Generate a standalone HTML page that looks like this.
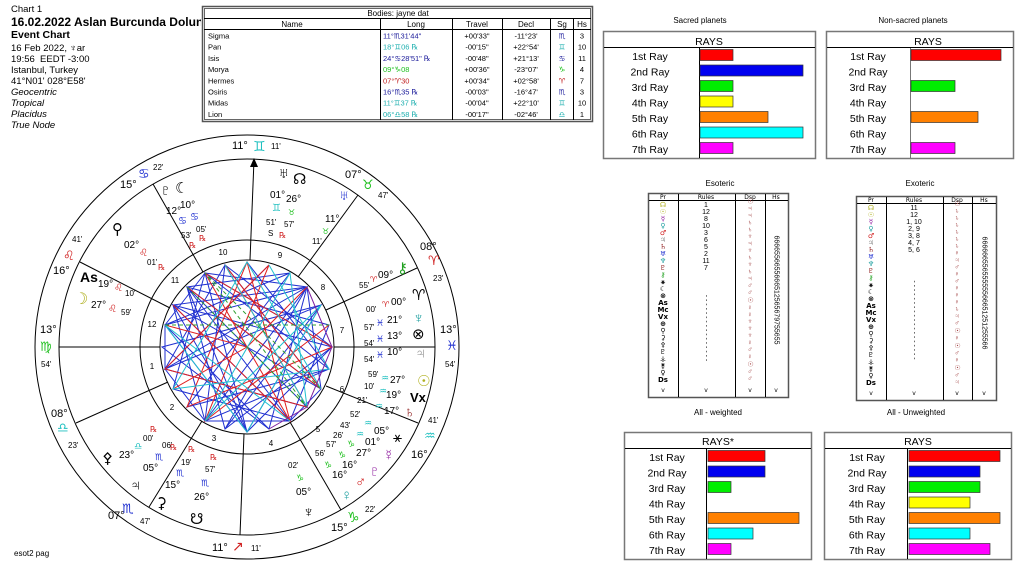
<!DOCTYPE html>
<html><head><meta charset="utf-8">
<style>
body{margin:0;width:1024px;height:566px;background:#fff;overflow:hidden;font-family:"Liberation Sans","DejaVu Sans",sans-serif;position:relative}
.a{position:absolute;white-space:nowrap}
</style></head><body>
<div class="a" style="left:11px;top:4px;font-size:9.5px">Chart 1</div>
<div class="a" style="left:11px;top:15px;font-size:12px;font-weight:bold;width:190px;overflow:hidden">16.02.2022 Aslan Burcunda Dolunay</div>
<div class="a" style="left:11px;top:29px;font-size:10.5px;font-weight:bold">Event Chart</div>
<div class="a" style="left:11px;top:43px;font-size:9.5px;line-height:11px">16 Feb 2022, ♆ar<br>19:56 &nbsp;EEDT -3:00<br>Istanbul, Turkey<br>41°N01' 028°E58'<br><i>Geocentric<br>Tropical<br>Placidus<br>True Node</i></div>
<div class="a" style="left:14px;top:549px;font-size:8px">esot2 pag</div>

<svg class="a" style="left:0;top:0" width="1024" height="566" xmlns="http://www.w3.org/2000/svg" font-family="Liberation Sans, DejaVu Sans, sans-serif">
<!-- bodies table -->
<g font-size="8" fill="#000">
<rect x="202.5" y="6.5" width="390" height="115" fill="none" stroke="#555" stroke-width="1.5"/>
<rect x="204.5" y="8.5" width="386" height="111" fill="none" stroke="#000" stroke-width=".6"/>
<line x1="204" y1="18.5" x2="591" y2="18.5" stroke="#000"/>
<line x1="204" y1="29.5" x2="591" y2="29.5" stroke="#000"/>
<g stroke="#000"><line x1="380.5" y1="19" x2="380.5" y2="120"/><line x1="452.5" y1="19" x2="452.5" y2="120"/><line x1="502.5" y1="19" x2="502.5" y2="120"/><line x1="550.5" y1="19" x2="550.5" y2="120"/><line x1="573.5" y1="19" x2="573.5" y2="120"/></g>
<text x="398" y="16" text-anchor="middle">Bodies: jayne dat</text>
<text x="292" y="27" text-anchor="middle">Name</text><text x="416" y="27" text-anchor="middle">Long</text><text x="477" y="27" text-anchor="middle">Travel</text><text x="526" y="27" text-anchor="middle">Decl</text><text x="562" y="27" text-anchor="middle">Sg</text><text x="582" y="27" text-anchor="middle">Hs</text>
<g font-size="7.5">
<g><text x="208" y="38.5">Sigma</text><text x="208" y="49.7">Pan</text><text x="208" y="60.9">Isis</text><text x="208" y="72.1">Morya</text><text x="208" y="83.3">Hermes</text><text x="208" y="94.5">Osiris</text><text x="208" y="105.7">Midas</text><text x="208" y="116.9">Lion</text></g>
<text x="383" y="38.5" fill="#1a1a9a">11°♏31'44"</text><text x="383" y="49.7" fill="#20b0b0">18°♊06 ℞</text><text x="383" y="60.9" fill="#1a1a9a">24°♋28'51" ℞</text><text x="383" y="72.1" fill="#20c020">09°♑08</text><text x="383" y="83.3" fill="#c02020">07°♈30</text><text x="383" y="94.5" fill="#1a1a9a">16°♏35 ℞</text><text x="383" y="105.7" fill="#20b0b0">11°♊37 ℞</text><text x="383" y="116.9" fill="#20b0b0">06°♎58 ℞</text>
<g text-anchor="middle">
<text x="477" y="38.5">+00'33"</text><text x="477" y="49.7">-00'15"</text><text x="477" y="60.9">-00'48"</text><text x="477" y="72.1">+00'36"</text><text x="477" y="83.3">+00'34"</text><text x="477" y="94.5">-00'03"</text><text x="477" y="105.7">-00'04"</text><text x="477" y="116.9">-00'17"</text>
<text x="526" y="38.5">-11°23'</text><text x="526" y="49.7">+22°54'</text><text x="526" y="60.9">+21°13'</text><text x="526" y="72.1">-23°07'</text><text x="526" y="83.3">+02°58'</text><text x="526" y="94.5">-16°47'</text><text x="526" y="105.7">+22°10'</text><text x="526" y="116.9">-02°46'</text>
<text x="562" y="38.5" fill="#1a1a9a">♏</text><text x="562" y="49.7" fill="#20b0b0">♊</text><text x="562" y="60.9" fill="#1a1a9a">♋</text><text x="562" y="72.1" fill="#20c020">♑</text><text x="562" y="83.3" fill="#c02020">♈</text><text x="562" y="94.5" fill="#1a1a9a">♏</text><text x="562" y="105.7" fill="#20b0b0">♊</text><text x="562" y="116.9" fill="#20b0b0">♎</text>
<text x="582" y="38.5">3</text><text x="582" y="49.7">10</text><text x="582" y="60.9">11</text><text x="582" y="72.1">4</text><text x="582" y="83.3">7</text><text x="582" y="94.5">3</text><text x="582" y="105.7">10</text><text x="582" y="116.9">1</text></g>
</g></g>

<!-- wheel -->
<g fill="none" stroke="#000" stroke-width="1">
<circle cx="247" cy="347" r="212"/>
<circle cx="247" cy="347" r="188"/>
<circle cx="247" cy="347" r="107"/>
<circle cx="247" cy="347" r="87"/>
<line x1="59" y1="347" x2="160" y2="347"/><line x1="334" y1="347" x2="435" y2="347"/>
<line x1="250" y1="260" x2="254" y2="160"/>
<line x1="244" y1="434" x2="240" y2="535"/>
<line x1="326" y1="310" x2="417" y2="268"/>
<line x1="298" y1="277" x2="358" y2="195"/>
<line x1="203" y1="272" x2="153" y2="184"/>
<line x1="170" y1="308" x2="80" y2="262"/>
<line x1="168" y1="382" x2="76" y2="423"/>
<line x1="202" y1="421" x2="149" y2="507"/>
<line x1="290" y1="422" x2="341" y2="510"/>
<line x1="326" y1="386" x2="418" y2="423"/>
</g>
<path d="M254 158 l-4 9 h8z" fill="#000"/>
<!-- aspect lines -->
<g stroke-width="1" fill="none">
<g stroke="#2030d0">
<polyline points="332,347 205,273 173,389 290,421 329,325 187,287 247,432 321,305 162,347 269,429 307,287 165,369 225,265 332,347"/>
<polyline points="290,273 187,407 329,369 205,273 247,432 173,305 321,389 225,265 205,421 307,287 165,325 269,429"/>
<polyline points="269,265 165,369 307,407 187,287 290,421 173,305 332,347 225,429 187,287"/>
<polyline points="247,262 329,369 205,421 173,305 307,287 225,429 321,305 165,369"/>
<polyline points="321,389 187,287 290,273 165,325 247,432 332,347"/>
<polyline points="205,273 307,287 321,389 290,421 205,421 165,369 165,325 205,273"/>
</g>
<g stroke="#e02020">
<polyline points="247,347 205,273 247,347 307,287 247,347 173,389 247,347 290,421 247,347 165,325"/>
<polyline points="187,287 321,389 225,265 307,407 165,369 269,265 205,421 329,325"/>
<polyline points="173,305 290,421 247,262 187,407 332,347 205,273"/>
</g>
<g stroke="#20c0d0">
<polyline points="225,265 307,407 290,273 205,421 321,305 247,432 165,325 290,421"/>
<polyline points="269,265 329,369 173,389 247,262 321,389"/>
</g>
<g stroke="#30a030" stroke-dasharray="4 3">
<polyline points="187,287 307,407 205,273 321,389"/>
<line x1="165" y1="325" x2="329" y2="325"/>
</g>
<g stroke="#8020a0"><polyline points="307,287 332,347 307,407 269,429"/></g>
</g>
<!-- house numbers -->
<g font-size="8" text-anchor="middle">
<text x="152" y="369">1</text><text x="172" y="410">2</text><text x="214" y="441">3</text><text x="271" y="446">4</text><text x="318" y="432">5</text><text x="342" y="392">6</text><text x="342" y="333">7</text><text x="323" y="290">8</text><text x="280" y="258">9</text><text x="223" y="255">10</text><text x="175" y="283">11</text><text x="152" y="327">12</text>
</g>
<!-- zodiac ring -->
<g font-size="11">
<text x="232" y="149">11°</text><text x="253" y="151" fill="#20c0c0" font-size="14">♊</text><text x="271" y="149" font-size="8">11'</text>
<text x="120" y="188">15°</text><text x="138" y="178" fill="#2030d0" font-size="13">♋</text><text x="153" y="170" font-size="8">22'</text>
<text x="72" y="242" font-size="8">41'</text><text x="63" y="260" fill="#d02020" font-size="13">♌</text><text x="53" y="274">16°</text>
<text x="40" y="333">13°</text><text x="40" y="351" fill="#20c020" font-size="13">♍</text><text x="41" y="367" font-size="8">54'</text>
<text x="51" y="417">08°</text><text x="57" y="432" fill="#20c0c0" font-size="13">♎</text><text x="68" y="448" font-size="8">23'</text>
<text x="108" y="519">07°</text><text x="122" y="513" fill="#2030d0" font-size="13">♏</text><text x="140" y="524" font-size="8">47'</text>
<text x="212" y="551">11°</text><text x="232" y="551" fill="#d02020" font-size="14">↗</text><text x="251" y="551" font-size="8">11'</text>
<text x="331" y="531">15°</text><text x="347" y="522" fill="#20c020" font-size="14">♑</text><text x="365" y="512" font-size="8">22'</text>
<text x="411" y="458">16°</text><text x="424" y="440" fill="#20c0c0" font-size="13">♒</text><text x="428" y="423" font-size="8">41'</text>
<text x="440" y="333">13°</text><text x="446" y="350" fill="#2030d0" font-size="13">♓</text><text x="445" y="367" font-size="8">54'</text>
<text x="420" y="250">08°</text><text x="428" y="265" fill="#d02020" font-size="13">♈</text><text x="433" y="281" font-size="8">23'</text>
<text x="345" y="178">07°</text><text x="362" y="189" fill="#20c020" font-size="13">♉</text><text x="378" y="198" font-size="8">47'</text>
</g>
<!-- planets -->
<g font-size="10">
<text x="278" y="178" font-size="15">♅</text><text x="293" y="184" font-size="15">☊</text>
<text x="270" y="198">01°</text><text x="286" y="202">26°</text><text x="272" y="211" fill="#20c0c0">♊</text><text x="288" y="215" fill="#20c020" font-size="8">♉</text>
<text x="266" y="225" font-size="8">51'</text><text x="284" y="227" font-size="8">57'</text><text x="268" y="236" font-size="8">S</text><text x="279" y="238" fill="#d02020" font-size="8">℞</text>
<text x="339" y="200" fill="#2030d0" font-size="14">♅</text>
<text x="325" y="222">11°</text><text x="322" y="234" fill="#20c020" font-size="8">♉</text><text x="312" y="244" font-size="8">11'</text>
<text x="160" y="195" font-size="15">♇</text><text x="175" y="193" font-size="15">☾</text>
<text x="180" y="208">10°</text><text x="166" y="214">12°</text><text x="178" y="224" fill="#2030d0">♋</text><text x="190" y="220" fill="#2030d0">♋</text>
<text x="181" y="238" font-size="8">53'</text><text x="196" y="232" font-size="8">05'</text><text x="189" y="248" fill="#d02020" font-size="8">℞</text><text x="199" y="241" fill="#d02020" font-size="8">℞</text>
<text x="112" y="234" font-size="15">⚲</text>
<text x="124" y="248">02°</text><text x="139" y="256" fill="#d02020">♌</text><text x="147" y="265" font-size="8">01'</text><text x="158" y="270" fill="#d02020" font-size="8">℞</text>
<text x="80" y="282" font-size="14" font-weight="bold">As</text>
<text x="98" y="287">19°</text><text x="114" y="291" fill="#d02020">♌</text><text x="125" y="296" font-size="8">10'</text>
<text x="74" y="304" fill="#b0b020" font-size="16">☽</text>
<text x="91" y="308">27°</text><text x="108" y="312" fill="#d02020">♌</text><text x="121" y="315" font-size="8">59'</text>
<text x="397" y="273" fill="#20a020" font-size="15">⚷</text>
<text x="378" y="278">09°</text><text x="370" y="282" fill="#d02020" font-size="8">♈</text><text x="359" y="288" font-size="8">55'</text>
<text x="412" y="300" font-size="15" font-weight="bold">♈</text><text x="391" y="305">00°</text><text x="382" y="307" fill="#d02020" font-size="8">♈</text><text x="366" y="312" font-size="8">00'</text>
<text x="413" y="323" fill="#20a0a0" font-size="15">♆</text><text x="387" y="323">21°</text><text x="376" y="326" fill="#2030d0" font-size="9">♓</text><text x="364" y="330" font-size="8">57'</text>
<text x="412" y="339" font-size="15">⊗</text><text x="387" y="339">13°</text><text x="376" y="342" fill="#2030d0" font-size="9">♓</text><text x="364" y="346" font-size="8">54'</text>
<text x="415" y="358" fill="#909090" font-size="15">♃</text><text x="387" y="355">10°</text><text x="376" y="358" fill="#2030d0" font-size="9">♓</text><text x="364" y="362" font-size="8">54'</text>
<text x="417" y="386" fill="#b0b020" font-size="15">☉</text><text x="390" y="383">27°</text><text x="381" y="381" fill="#20c0c0" font-size="9">♒</text><text x="368" y="377" font-size="8">59'</text>
<text x="410" y="402" font-size="13" font-weight="bold">Vx</text><text x="386" y="398">19°</text><text x="379" y="394" fill="#20c0c0" font-size="9">♒</text><text x="364" y="389" font-size="8">10'</text>
<text x="404" y="417" fill="#902020" font-size="15">♄</text><text x="384" y="414">17°</text><text x="375" y="409" fill="#20c0c0" font-size="9">♒</text><text x="357" y="403" font-size="8">21'</text>
<text x="393" y="442" font-size="15">⚹</text><text x="374" y="434">05°</text><text x="364" y="426" fill="#20c0c0" font-size="9">♒</text><text x="350" y="417" font-size="8">52'</text>
<text x="365" y="445">01°</text><text x="356" y="437" fill="#20c0c0" font-size="9">♒</text><text x="340" y="428" font-size="8">43'</text>
<text x="383" y="460" fill="#9020a0" font-size="15">☿</text><text x="356" y="456">27°</text><text x="347" y="447" fill="#20c020" font-size="9">♑</text><text x="333" y="438" font-size="8">26'</text>
<text x="369" y="476" fill="#9020a0" font-size="15">♇</text><text x="342" y="468">16°</text><text x="338" y="458" fill="#20c020" font-size="9">♑</text><text x="326" y="447" font-size="8">57'</text>
<text x="355" y="487" fill="#d02020" font-size="15">♂</text><text x="332" y="478">16°</text><text x="324" y="468" fill="#20c020" font-size="9">♑</text><text x="315" y="456" font-size="8">56'</text>
<text x="341" y="500" fill="#20a0a0" font-size="15">♀</text>
<text x="288" y="468" font-size="8">02'</text><text x="296" y="481" fill="#20c020" font-size="9">♑</text><text x="296" y="495">05°</text>
<text x="303" y="517" font-size="15">♆</text>
<text x="150" y="432" fill="#d02020" font-size="8">℞</text><text x="143" y="441" font-size="8">00'</text><text x="134" y="449" fill="#20c0c0" font-size="9">♎</text><text x="119" y="458">23°</text>
<text x="102" y="463" font-size="15">⚴</text>
<text x="170" y="450" fill="#d02020" font-size="8">℞</text><text x="162" y="448" font-size="8">06'</text><text x="155" y="460" fill="#2030d0" font-size="9">♏</text><text x="143" y="471">05°</text>
<text x="130" y="490" font-size="15">♃</text>
<text x="188" y="452" fill="#d02020" font-size="8">℞</text><text x="181" y="465" font-size="8">19'</text><text x="176" y="476" fill="#2030d0" font-size="9">♏</text><text x="165" y="488">15°</text>
<text x="210" y="460" fill="#d02020" font-size="8">℞</text><text x="205" y="472" font-size="8">57'</text><text x="201" y="486" fill="#2030d0" font-size="9">♏</text><text x="194" y="500">26°</text>
<text x="156" y="508" font-size="15">⚳</text><text x="190" y="524" font-size="15">☋</text>
</g>

<!-- Rays boxes -->
<g font-size="10.5" font-family="Liberation Sans, sans-serif">
<text x="700" y="23" text-anchor="middle" font-size="8">Sacred planets</text>
<text x="913" y="23" text-anchor="middle" font-size="8">Non-sacred planets</text>
<rect x="603.5" y="31.5" width="212" height="127" fill="none" stroke="#777" stroke-width="1.5"/>
<line x1="604" y1="47.5" x2="815" y2="47.5" stroke="#000"/><line x1="699.5" y1="48" x2="699.5" y2="158" stroke="#000"/>
<text x="709" y="45" text-anchor="middle">RAYS</text>
<g text-anchor="middle"><text x="650" y="60">1st Ray</text><text x="650" y="75.5">2nd Ray</text><text x="650" y="91">3rd Ray</text><text x="650" y="106.5">4th Ray</text><text x="650" y="122">5th Ray</text><text x="650" y="137.5">6th Ray</text><text x="650" y="153">7th Ray</text></g>
<g stroke="#333" stroke-width=".7"><rect x="700" y="49.5" width="33" height="11" fill="#f00"/><rect x="700" y="65" width="103" height="11" fill="#0000f0"/><rect x="700" y="80.5" width="33" height="11" fill="#0e0"/><rect x="700" y="96" width="33" height="11" fill="#ff0"/><rect x="700" y="111.5" width="68" height="11" fill="#ff8000"/><rect x="700" y="127" width="103" height="11" fill="#0ff"/><rect x="700" y="142.5" width="33" height="11" fill="#f0f"/></g>

<rect x="826.5" y="31.5" width="187" height="127" fill="none" stroke="#777" stroke-width="1.5"/>
<line x1="827" y1="47.5" x2="1013" y2="47.5" stroke="#000"/><line x1="910.5" y1="48" x2="910.5" y2="158" stroke="#777"/>
<text x="928" y="45" text-anchor="middle">RAYS</text>
<g text-anchor="middle"><text x="868" y="60">1st Ray</text><text x="868" y="75.5">2nd Ray</text><text x="868" y="91">3rd Ray</text><text x="868" y="106.5">4th Ray</text><text x="868" y="122">5th Ray</text><text x="868" y="137.5">6th Ray</text><text x="868" y="153">7th Ray</text></g>
<g stroke="#333" stroke-width=".7"><rect x="911" y="49.5" width="90" height="11" fill="#f00"/><rect x="911" y="80.5" width="44" height="11" fill="#0e0"/><rect x="911" y="111.5" width="67" height="11" fill="#ff8000"/><rect x="911" y="142.5" width="44" height="11" fill="#f0f"/></g>

<rect x="624.5" y="432.5" width="187" height="127" fill="none" stroke="#777" stroke-width="1.5"/>
<line x1="625" y1="448.5" x2="811" y2="448.5" stroke="#000"/><line x1="706.5" y1="449" x2="706.5" y2="559" stroke="#000"/>
<text x="718" y="445" text-anchor="middle">RAYS*</text>
<g text-anchor="middle"><text x="667" y="461">1st Ray</text><text x="667" y="476.5">2nd Ray</text><text x="667" y="492">3rd Ray</text><text x="667" y="507.5">4th Ray</text><text x="667" y="523">5th Ray</text><text x="667" y="538.5">6th Ray</text><text x="667" y="554">7th Ray</text></g>
<g stroke="#333" stroke-width=".7"><rect x="708" y="450.5" width="57" height="11" fill="#f00"/><rect x="708" y="466" width="57" height="11" fill="#0000f0"/><rect x="708" y="481.5" width="23" height="11" fill="#0e0"/><rect x="708" y="512.5" width="91" height="11" fill="#ff8000"/><rect x="708" y="528" width="45" height="11" fill="#0ff"/><rect x="708" y="543.5" width="23" height="11" fill="#f0f"/></g>

<rect x="824.5" y="432.5" width="187" height="127" fill="none" stroke="#777" stroke-width="1.5"/>
<line x1="825" y1="448.5" x2="1011" y2="448.5" stroke="#000"/><line x1="907.5" y1="449" x2="907.5" y2="559" stroke="#000"/>
<text x="918" y="445" text-anchor="middle">RAYS</text>
<g text-anchor="middle"><text x="867" y="461">1st Ray</text><text x="867" y="476.5">2nd Ray</text><text x="867" y="492">3rd Ray</text><text x="867" y="507.5">4th Ray</text><text x="867" y="523">5th Ray</text><text x="867" y="538.5">6th Ray</text><text x="867" y="554">7th Ray</text></g>
<g stroke="#333" stroke-width=".7"><rect x="909" y="450.5" width="91" height="11" fill="#f00"/><rect x="909" y="466" width="71" height="11" fill="#0000f0"/><rect x="909" y="481.5" width="71" height="11" fill="#0e0"/><rect x="909" y="497" width="61" height="11" fill="#ff0"/><rect x="909" y="512.5" width="91" height="11" fill="#ff8000"/><rect x="909" y="528" width="61" height="11" fill="#0ff"/><rect x="909" y="543.5" width="81" height="11" fill="#f0f"/></g>

<text x="720" y="186" text-anchor="middle" font-size="8">Esoteric</text>
<text x="920" y="186" text-anchor="middle" font-size="8">Exoteric</text>
<text x="718" y="415" text-anchor="middle" font-size="8">All - weighted</text>
<text x="916" y="415" text-anchor="middle" font-size="8">All - Unweighted</text>
</g>
<!-- eso/exo tables -->
<g fill="none" stroke-width="1.5" stroke="#555">
<rect x="648.5" y="193.5" width="140" height="204"/>
<rect x="856.5" y="196.5" width="140" height="204"/>
</g>
<g stroke="#000" stroke-width="1">
<line x1="678.5" y1="194" x2="678.5" y2="397"/><line x1="735.5" y1="194" x2="735.5" y2="397"/><line x1="765.5" y1="194" x2="765.5" y2="397"/><line x1="649" y1="200.5" x2="788" y2="200.5"/>
<line x1="886.5" y1="197" x2="886.5" y2="400"/><line x1="943.5" y1="197" x2="943.5" y2="400"/><line x1="972.5" y1="197" x2="972.5" y2="400"/><line x1="857" y1="203.5" x2="996" y2="203.5"/>
</g>
<g font-size="6" text-anchor="middle" font-family="DejaVu Sans, sans-serif">
<text x="663" y="199">Pr</text><text x="706" y="199">Rules</text><text x="750" y="199">Dsp</text><text x="776" y="199">Hs</text>
<text x="871" y="202">Pr</text><text x="914" y="202">Rules</text><text x="957" y="202">Dsp</text><text x="984" y="202">Hs</text>
<text x="663" y="392">v</text><text x="706" y="392">v</text><text x="750" y="392">v</text><text x="776" y="392">v</text>
<text x="871" y="395">v</text><text x="914" y="395">v</text><text x="957" y="395">v</text><text x="984" y="395">v</text>
</g>
<g font-size="7" text-anchor="middle" font-family="DejaVu Sans, sans-serif" font-weight="bold">
<text x="663" y="207" fill="#b0b020">☊</text><text x="663" y="214" fill="#b0b020">☉</text><text x="663" y="221" fill="#9020a0">☿</text><text x="663" y="228" fill="#20a0a0">♀</text><text x="663" y="235" fill="#d02020">♂</text><text x="663" y="242" fill="#999">♃</text><text x="663" y="249" fill="#902020">♄</text><text x="663" y="256" fill="#2030d0">♅</text><text x="663" y="263" fill="#20a0a0">♆</text><text x="663" y="270" fill="#902020">♇</text><text x="663" y="277" fill="#20a020">⚷</text><text x="663" y="284">⚹</text><text x="663" y="291">☾</text><text x="663" y="298">⊗</text><text x="663" y="305">As</text><text x="663" y="312">Mc</text><text x="663" y="319">Vx</text><text x="663" y="326">⊕</text><text x="663" y="333">⚲</text><text x="663" y="340">⚳</text><text x="663" y="347">⚴</text><text x="663" y="354">♇</text><text x="663" y="361">⚶</text><text x="663" y="368">⚵</text><text x="663" y="375">♀</text><text x="663" y="382">Ds</text>
<text x="871" y="210" fill="#b0b020">☊</text><text x="871" y="217" fill="#b0b020">☉</text><text x="871" y="224" fill="#9020a0">☿</text><text x="871" y="231" fill="#20a0a0">♀</text><text x="871" y="238" fill="#d02020">♂</text><text x="871" y="245" fill="#999">♃</text><text x="871" y="252" fill="#902020">♄</text><text x="871" y="259" fill="#2030d0">♅</text><text x="871" y="266" fill="#20a0a0">♆</text><text x="871" y="273" fill="#902020">♇</text><text x="871" y="280" fill="#20a020">⚷</text><text x="871" y="287">⚹</text><text x="871" y="294">☾</text><text x="871" y="301">⊗</text><text x="871" y="308">As</text><text x="871" y="315">Mc</text><text x="871" y="322">Vx</text><text x="871" y="329">⊕</text><text x="871" y="336">⚲</text><text x="871" y="343">⚳</text><text x="871" y="350">⚴</text><text x="871" y="357">♇</text><text x="871" y="364">⚶</text><text x="871" y="371">⚵</text><text x="871" y="378">♀</text><text x="871" y="385">Ds</text>
</g>
<g font-size="7" text-anchor="middle">
<text x="706" y="207">1</text><text x="706" y="214">12</text><text x="706" y="221">8</text><text x="706" y="228">10</text><text x="706" y="235">3</text><text x="706" y="242">6</text><text x="706" y="249">5</text><text x="706" y="256">2</text><text x="706" y="263">11</text><text x="706" y="270">7</text>
<text x="914" y="210">11</text><text x="914" y="217">12</text><text x="914" y="224">1, 10</text><text x="914" y="231">2, 9</text><text x="914" y="238">3, 8</text><text x="914" y="245">4, 7</text><text x="914" y="252">5, 6</text>
</g>
<g font-size="7" text-anchor="middle" fill="#000">
<text x="776" y="290" style="writing-mode:tb">6666556655666512565679755655</text>
<text x="984" y="293" style="writing-mode:tb">66666655655555566651251255566</text>
<text x="750" y="290" style="writing-mode:tb" fill="#a04040">☉♃♃♄♄♆♃♆♄♆♄♃♂♂☉♀♀♆♆♆♀♂♀☉♂♂</text>
<text x="957" y="293" style="writing-mode:tb" fill="#a04040">☉♄♄♄♄♄♄♀♃♂♀♂♀♀♀♄♃♂☉♀☉♂♀☉♂♃</text>
<text x="706" y="328" style="writing-mode:tb">- - - - - - - - - - - - - - - - </text>
<text x="914" y="320" style="writing-mode:tb">- - - - - - - - - - - - - - - - - - -</text>
</g>
</svg>
</body></html>
